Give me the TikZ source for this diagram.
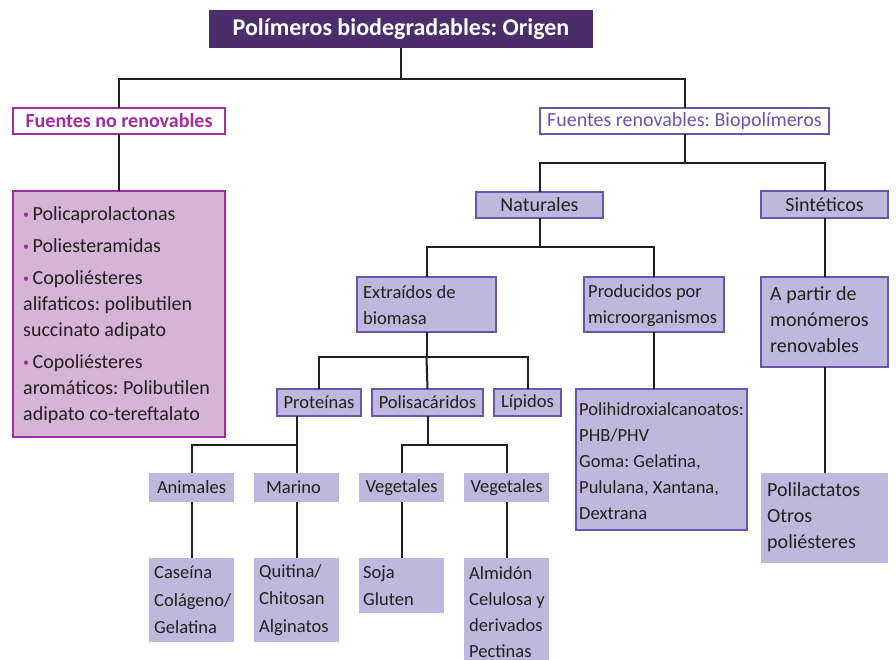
\documentclass[tikz,border=0pt]{standalone}
\usepackage{fontspec}
\setmainfont{Carlito}
\definecolor{titleC}{RGB}{76,45,108}
\definecolor{magC}{RGB}{163,45,158}
\definecolor{pinkF}{RGB}{214,180,214}
\definecolor{purpC}{RGB}{108,84,172}
\definecolor{lavF}{RGB}{191,184,221}
\definecolor{inkC}{RGB}{35,31,32}
\newcommand\mybul{{\color{magC}\fontsize{12}{12}\selectfont\raisebox{2.5pt}{•}}\hspace{3.5pt}}
\begin{document}
\frenchspacing
\begin{tikzpicture}[x=1pt,y=-1pt,
  conn/.style={draw=inkC,line width=2pt},
  boxbase/.style={anchor=north west,inner sep=0pt,outer sep=0pt,font=\fontsize{20}{26}\selectfont,text=inkC},
  pbox/.style={boxbase,draw=purpC,fill=lavF,line width=2pt},
  lbox/.style={boxbase,fill=lavF},
  small/.style={font=\fontsize{18.5}{26}\selectfont},
  smallb/.style={font=\fontsize{18.5}{27.3}\selectfont},
  txt/.style={font=\fontsize{20}{26}\selectfont,text=inkC,inner sep=0pt,align=left},
  lbl/.style={txt,anchor=west},
  ]
\useasboundingbox (0,0) rectangle (896,659);

% title
\node[boxbase,fill=titleC,text=white,font=\bfseries\fontsize{24}{28}\selectfont,
  minimum width=384pt,minimum height=38pt] (title) at (209,10) {Polímeros biodegradables: Origen};

% level 1
\node[boxbase,draw=magC,fill=white,line width=2pt,text=magC,font=\bfseries\fontsize{20}{26}\selectfont,
  minimum width=212pt,minimum height=26pt] (fnr) at (13,108) {Fuentes no renovables};
\node[boxbase,draw=purpC,fill=white,line width=2pt,text=purpC,
  minimum width=289pt,minimum height=26pt] (fr) at (540,108) {Fuentes renovables: Biopolímeros};

% non-renewable list
\node[boxbase,draw=magC,fill=pinkF,line width=2pt,minimum width=212pt,minimum height=246pt] (nrl) at (13,191) {};
\node[lbl] (nrlT) at ([xshift=10pt,yshift=-1.5pt]nrl.west) {%
\mybul Policaprolactonas\\[6pt]
\mybul Poliesteramidas\\[6pt]
\mybul Copoliésteres\\
alifaticos: polibutilen\\
succinato adipato\\[6pt]
\mybul Copoliésteres\\
aromáticos: Polibutilen\\
adipato co-tereftalato};

% renewable branch
\node[pbox,minimum width=127pt,minimum height=26pt] (nat) at (476,192) {Naturales};
\node[pbox,minimum width=127pt,minimum height=27pt] (sin) at (761,191) {Sintéticos};

\node[pbox,minimum width=139pt,minimum height=55pt] (ext) at (357,277) {};
\node[lbl,small] (extT) at ([xshift=6pt,yshift=-1pt]ext.west) {Extraídos de\\biomasa};
\node[pbox,minimum width=140pt,minimum height=55pt] (prod) at (584,277) {};
\node[lbl,small] (prodT) at ([xshift=4pt,yshift=-1.5pt]prod.west) {Producidos por\\microorganismos};
\node[pbox,minimum width=127pt,minimum height=90pt] (apar) at (761,277) {};
\node[lbl] (aparT) at ([xshift=9pt,yshift=2pt]apar.west) {A partir de\\monómeros\\renovables};

\node[pbox,small,minimum width=84pt,minimum height=27pt] (prot) at (277,389) {Proteínas};
\node[pbox,small,minimum width=111pt,minimum height=27pt] (polis) at (372,389) {Polisacáridos};
\node[pbox,small,minimum width=67pt,minimum height=27pt] (lip) at (494,389) {Lípidos};
\node[pbox,minimum width=171pt,minimum height=141pt] (phb) at (576,389) {};
\node[lbl,small] (phbT) at ([xshift=3pt,yshift=-1.5pt]phb.west) {Polihidroxialcanoatos:\\PHB/PHV\\Goma: Gelatina,\\Pululana, Xantana,\\Dextrana};

\node[lbox,minimum width=127pt,minimum height=90pt] (polil) at (761,473) {};
\node[lbl] (polilT) at ([xshift=6pt,yshift=1pt]polil.west) {Polilactatos\\Otros\\poliésteres};

\node[lbox,small,minimum width=85pt,minimum height=29pt] (anim) at (149,473) {Animales};
\node[lbox,small,minimum width=85pt,minimum height=29pt] (mar) at (254,473) {\hspace{-6pt}Marino};
\node[lbox,small,minimum width=85pt,minimum height=29pt] (veg1) at (359,473) {Vegetales};
\node[lbox,small,minimum width=85pt,minimum height=29pt] (veg2) at (464,473) {Vegetales};

\node[lbox,minimum width=85pt,minimum height=84pt] (cas) at (149,558) {};
\node[lbl,smallb] (casT) at ([xshift=5pt]cas.west) {Caseína\\Colágeno/\\Gelatina};
\node[lbox,minimum width=85pt,minimum height=84pt] (qui) at (254,558) {};
\node[lbl,smallb] (quiT) at ([xshift=5pt]qui.west) {Quitina/\\Chitosan\\Alginatos};
\node[lbox,minimum width=85pt,minimum height=55pt] (soja) at (359,558) {};
\node[lbl,smallb] (sojaT) at ([xshift=4pt]soja.west) {Soja\\Gluten};
\node[lbox,minimum width=85pt,minimum height=107pt] (alm) at (464,558) {};
\node[lbl,font=\fontsize{18.5}{26}\selectfont] (almT) at ([xshift=5pt,yshift=-1pt]alm.west) {Almidón\\Celulosa y\\derivados\\Pectinas};

% connectors
\coordinate (j1) at (401,79);
\draw[conn] (title.south) -- (j1);
\draw[conn] (fnr.north) |- (j1) -| (fr.north);
\draw[conn] (fnr.south) -- (nrl.north);

\coordinate (j2) at (684.5,163);
\draw[conn] (fr.south) -- (j2);
\draw[conn] (nat.north) |- (j2) -| (sin.north);

\coordinate (j3) at (539.5,247);
\draw[conn] (nat.south) -- (j3);
\draw[conn] (ext.north) |- (j3) -| (prod.north);

\draw[conn] (sin.south) -- (apar.north);
\draw[conn] (apar.south) -- (polil.north);

\coordinate (j4) at (426.5,357);
\draw[conn] (ext.south) -- (j4);
\draw[conn] (prot.north) |- (j4) -| (lip.north);
\draw[conn] (j4) -- (polis.north);

\draw[conn] (prod.south) -- (prod.south |- phb.north);

\coordinate (j5) at (296.5,445);
\draw[conn] (j5 |- prot.south) -- (j5);
\draw[conn] (anim.north) |- (j5) -- (mar.north);

\coordinate (j6) at (427.5,445);
\draw[conn] (polis.south) -- (j6);
\draw[conn] (veg1.north) |- (j6) -| (veg2.north);

\draw[conn] (anim.south) -- (cas.north);
\draw[conn] (mar.south) -- (qui.north);
\draw[conn] (veg1.south) -- (soja.north);
\draw[conn] (veg2.south) -- (alm.north);
\end{tikzpicture}
\end{document}
